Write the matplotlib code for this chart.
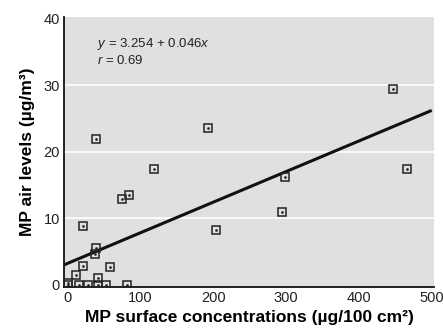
import numpy as np
import matplotlib
matplotlib.use('Agg')
import matplotlib.pyplot as plt

plt.rcParams['font.family'] = ['Liberation Sans Narrow', 'Liberation Sans', 'DejaVu Sans']
plt.rcParams['mathtext.fontset'] = 'custom'
plt.rcParams['mathtext.rm'] = 'Liberation Sans'
plt.rcParams['mathtext.it'] = 'Liberation Sans:italic'

# MP surface concentrations (ug/100 cm2) vs MP air levels (ug/m3)
surface = [447, 466, 193, 39, 118, 75, 84, 299, 294, 204, 21, 39, 38, 21, 58, 12, 42,
           0, 0, 15, 28, 42, 52, 81]
air = [29.5, 17.5, 23.6, 22.0, 17.4, 13.0, 13.6, 16.2, 10.9, 8.2, 8.9, 5.6, 4.6, 2.8, 2.7, 1.5, 1.1,
       0.3, 0, 0, 0, 0, 0, 0]

intercept = 3.254
slope = 0.046
fit_x = np.array([-5, 500])

fig = plt.figure(figsize=(4.43, 3.33), dpi=100)
ax = fig.add_axes([0.1445, 0.139, 0.835, 0.81])
ax.set_facecolor('#e0e0e0')

for yv in [10, 20, 30]:
    ax.axhline(yv, color='white', lw=1.2, zorder=1)

ax.plot(fit_x, intercept + slope * fit_x, color='#111111', lw=2.2, zorder=2, solid_capstyle='butt')
ax.plot(surface, air, 's', ms=5.5, mfc='none', mec='#222222', mew=1.1, zorder=3)
ax.plot(surface, air, '.', ms=1.8, color='#222222', zorder=4)

ax.set_xlim(-5, 503)
ax.set_ylim(-0.26, 40.3)
ax.set_xticks([0, 100, 200, 300, 400, 500])
ax.set_yticks([0, 10, 20, 30, 40])
ax.tick_params(length=0, labelsize=10.5, pad=3, colors='#222222')
for s in ['top', 'right']:
    ax.spines[s].set_visible(False)
for s in ['left', 'bottom']:
    ax.spines[s].set_color('#111111')
    ax.spines[s].set_linewidth(1.3)

ax.text(40, 36.3, r'$y$ = 3.254 + 0.046$x$', fontsize=9.5, va='center', color='#222222')
ax.text(40, 33.8, r'$r$ = 0.69', fontsize=9.5, va='center', color='#222222')

ax.set_xlabel('MP surface concentrations (\u00b5g/100 cm\u00b2)', fontsize=12.5, fontweight='bold', labelpad=4)
ax.set_ylabel('MP air levels (\u00b5g/m\u00b3)', fontsize=12.5, fontweight='bold', labelpad=6)

fig.savefig('out.png', dpi=100)
